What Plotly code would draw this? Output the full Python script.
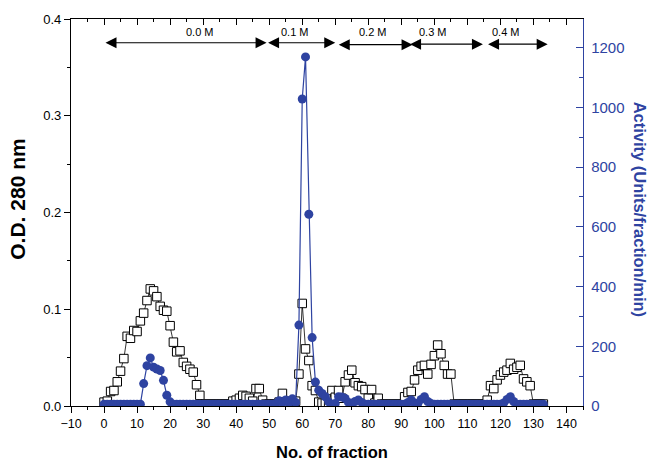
import plotly.graph_objects as go

# Fraction numbers collected from the column
fractions = list(range(0, 134))

# Protein absorbance (O.D. 280 nm) per fraction
od280 = [
    0.004, 0.005, 0.015, 0.016, 0.025, 0.036, 0.049, 0.072, 0.070, 0.078,  # 0-9
    0.077, 0.088, 0.096, 0.109, 0.121, 0.119, 0.113, 0.103, 0.099, 0.098,  # 10-19
    0.083, 0.066, 0.056, 0.057, 0.045, 0.041, 0.038, 0.035, 0.022, 0.011,  # 20-29
    0.002, 0.002, 0.002, 0.002, 0.002, 0.002, 0.002, 0.002, 0.002, 0.005,  # 30-39
    0.006, 0.008, 0.011, 0.010, 0.008, 0.005, 0.018, 0.018, 0.006, 0.002,  # 40-49
    0.002, 0.002, 0.002, 0.004, 0.013, 0.004, 0.003, 0.005, 0.005, 0.033,  # 50-59
    0.106, 0.059, 0.047, 0.021, 0.016, 0.004, 0.003, 0.003, 0.003, 0.016,  # 60-69
    0.009, 0.016, 0.008, 0.025, 0.032, 0.037, 0.024, 0.021, 0.020, 0.017,  # 70-79
    0.008, 0.017, 0.003, 0.008, 0.002, 0.002, 0.002, 0.002, 0.002, 0.002,  # 80-89
    0.002, 0.0095, 0.014, 0.015, 0.027, 0.037, 0.041, 0.042, 0.033, 0.043,  # 90-99
    0.052, 0.063, 0.054, 0.042, 0.033, 0.033, 0.002, 0.002, 0.002, 0.002,  # 100-109
    0.002, 0.002, 0.002, 0.002, 0.002, 0.002, 0.006, 0.021, 0.018, 0.027,  # 110-119
    0.032, 0.035, 0.037, 0.044, 0.038, 0.040, 0.042, 0.028, 0.025, 0.021,  # 120-129
    0.002, 0.002, 0.002, 0.002,                                            # 130-133
]

# Enzyme activity (Units/fraction/min) per fraction
activity = [
    6, 6, 6, 6, 6, 6, 6, 6, 6, 6,                # 0-9
    6, 6, 75, 135, 161, 130, 124, 119, 86, 36,   # 10-19
    14, 6, 6, 6, 6, 6, 6, 6, 6, 6,               # 20-29
    6, 6, 6, 6, 6, 6, 6, 6, 6, 6,                # 30-39
    6, 6, 6, 6, 6, 6, 6, 6, 6, 6,                # 40-49
    6, 6, 8, 18, 12, 20, 10, 24, 12, 271,        # 50-59
    1028, 1169, 642, 229, 80, 53, 42, 31, 14, 6, # 60-69
    8, 31, 30, 25, 12, 8, 15, 20, 12, 6,         # 70-79
    6, 6, 6, 6, 6, 6, 6, 6, 6, 6,                # 80-89
    6, 6, 12, 20, 10, 8, 22, 31, 15, 8,          # 90-99
    6, 6, 6, 6, 6, 6, 6, 6, 6, 6,                # 100-109
    6, 6, 6, 6, 6, 6, 6, 6, 6, 6,                # 110-119
    6, 10, 22, 31, 15, 6, 6, 6, 6, 6,            # 120-129
    6, 6, 6, 6,                                  # 130-133
]

# NaCl step gradient: label, span of fractions, label position
salt_labels = ["0.0 M", "0.1 M", "0.2 M", "0.3 M", "0.4 M"]
salt_start = [0, 49.2, 70.6, 92.2, 115.8]
salt_end = [49.2, 70.0, 93.4, 114.7, 134.3]
salt_label_x = [29, 57.8, 81.3, 99.6, 121.8]
salt_arrow_od = [0.3755, 0.3755, 0.3735, 0.374, 0.374]
salt_label_od = 0.387

BLUE = "#2E43A1"
FONT = "Arial, Liberation Sans, Helvetica, sans-serif"
x_range = [-10, 145]
x_ticks = list(range(-10, 141, 10))

fig = go.Figure()

fig.add_trace(go.Scatter(
    x=fractions, y=od280, mode="lines+markers",
    line=dict(color="black", width=0.8),
    marker=dict(symbol="square", size=8.5, color="white",
                line=dict(color="black", width=1)),
    xaxis="x", yaxis="y", showlegend=False, hoverinfo="skip",
))

fig.add_trace(go.Scatter(
    x=fractions, y=activity, mode="lines+markers",
    line=dict(color=BLUE, width=1.2),
    marker=dict(symbol="circle", size=9, color=BLUE, line=dict(width=0)),
    xaxis="x", yaxis="y2", showlegend=False, hoverinfo="skip",
))

# empty trace so the mirrored top axis gets drawn
fig.add_trace(go.Scatter(x=[], y=[], xaxis="x2", yaxis="y", showlegend=False))

annotations = []
for lab, x0, x1, lx, ay in zip(salt_labels, salt_start, salt_end,
                               salt_label_x, salt_arrow_od):
    annotations.append(dict(
        x=x1, y=ay, ax=x0, ay=ay, xref="x", yref="y", axref="x", ayref="y",
        text="", showarrow=True, arrowhead=2, startarrowhead=2,
        arrowside="end+start", arrowsize=2, startarrowsize=2,
        arrowwidth=1.1, arrowcolor="black", standoff=0, startstandoff=0,
    ))
    annotations.append(dict(
        x=lx, y=salt_label_od, xref="x", yref="y", text=lab, showarrow=False,
        font=dict(family=FONT, size=11, color="black"),
        xanchor="center", yanchor="middle",
    ))

annotations += [
    dict(text="<b>No. of fraction</b>", xref="paper", yref="paper",
         x=0.51, y=0, yshift=-46, showarrow=False,
         xanchor="center", yanchor="middle",
         font=dict(family=FONT, size=16.5, color="black")),
    dict(text="<b>O.D. 280 nm</b>", xref="paper", yref="paper",
         x=0, xshift=-53, y=0.533, showarrow=False, textangle=-90,
         xanchor="center", yanchor="middle",
         font=dict(family=FONT, size=21, color="black")),
    dict(text="<b>Activity (Units/fraction/min)</b>", xref="paper",
         yref="paper", x=1, xshift=57, y=0.51, showarrow=False,
         textangle=90, xanchor="center", yanchor="middle",
         font=dict(family=FONT, size=16.5, color=BLUE)),
]

fig.update_layout(
    width=650, height=463,
    margin=dict(l=71, r=67, t=14, b=57),
    paper_bgcolor="white", plot_bgcolor="white",
    showlegend=False,
    font=dict(family=FONT, color="black"),
    xaxis=dict(
        range=x_range, tickvals=x_ticks, ticks="outside", ticklen=6,
        tickwidth=1.2, tickcolor="black", showline=True, linecolor="black",
        linewidth=1.3, showgrid=False, zeroline=False,
        tickfont=dict(family=FONT, size=12.5, color="black"),
        minor=dict(dtick=5, tick0=0, ticks="outside", ticklen=3,
                   tickwidth=1.2, tickcolor="black", showgrid=False),
    ),
    xaxis2=dict(
        range=x_range, overlaying="x", side="top", anchor="y",
        tickvals=x_ticks, ticks="inside", ticklen=6, tickwidth=1.2,
        tickcolor="black", showline=True, linecolor="black", linewidth=1.3,
        showticklabels=False, showgrid=False, zeroline=False,
        minor=dict(dtick=5, tick0=0, ticks="inside", ticklen=3,
                   tickwidth=1.2, tickcolor="black", showgrid=False),
    ),
    yaxis=dict(
        range=[0, 0.4], tickvals=[0, 0.1, 0.2, 0.3, 0.4],
        ticktext=["0.0", "0.1", "0.2", "0.3", "0.4"],
        ticks="outside", ticklen=6, tickwidth=1.2, tickcolor="black",
        showline=True, linecolor="black", linewidth=1.3,
        showgrid=False, zeroline=False,
        tickfont=dict(family=FONT, size=13, color="black"),
        minor=dict(dtick=0.05, tick0=0, ticks="outside", ticklen=3,
                   tickwidth=1.2, tickcolor="black", showgrid=False),
    ),
    yaxis2=dict(
        range=[0, 1296], overlaying="y", side="right", anchor="x",
        tickvals=[0, 200, 400, 600, 800, 1000, 1200],
        ticks="inside", ticklen=7, tickwidth=1.2, tickcolor=BLUE,
        showline=True, linecolor=BLUE, linewidth=1.3,
        showgrid=False, zeroline=False,
        tickfont=dict(family=FONT, size=15, color=BLUE),
        ticklabelstandoff=4,
        minor=dict(dtick=100, tick0=0, ticks="inside", ticklen=3.5,
                   tickwidth=1.2, tickcolor=BLUE, showgrid=False),
    ),
    annotations=annotations,
)

fig.write_html("out.html")
